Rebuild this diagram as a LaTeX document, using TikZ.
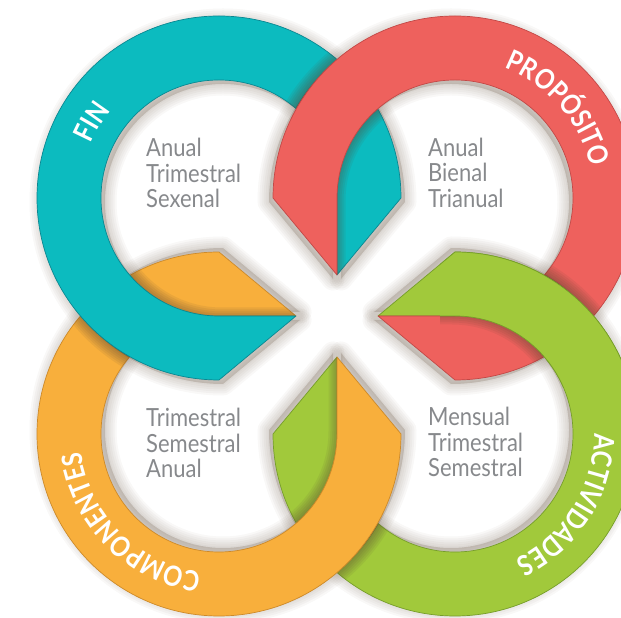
\documentclass[tikz,border=0pt]{standalone}
\usepackage{fontspec}
\usetikzlibrary{decorations.text}
\newfontfamily\innerfont[FakeStretch=0.88]{Lato}
\newfontfamily\labelfont[FakeStretch=0.85,LetterSpace=5]{Lato}
\definecolor{tealc}{RGB}{12,187,191}
\definecolor{teald}{RGB}{10,135,145}
\definecolor{redc}{RGB}{238,97,93}
\definecolor{redd}{RGB}{195,72,70}
\definecolor{greenc}{RGB}{161,201,59}
\definecolor{greend}{RGB}{118,158,42}
\definecolor{orangec}{RGB}{248,175,60}
\definecolor{oranged}{RGB}{205,138,42}
\definecolor{textc}{RGB}{135,137,140}
\definecolor{shadowc}{RGB}{90,70,50}
\def\tealpath{(401,420) arc[start angle=0,end angle=270,radius=182] -- (296,302) -- (219,302) arc[start angle=270,end angle=0,radius=118] -- (337,343) -- cycle}
\def\redpath{(273,420) arc[start angle=180,end angle=-90,radius=182] -- (378,302) -- (455,302) arc[start angle=-90,end angle=180,radius=118] -- (337,343) -- cycle}
\def\greenpath{(455,366) arc[start angle=90,end angle=-180,radius=182] -- (337,261) -- (337,184) arc[start angle=180,end angle=450,radius=118] -- (378,302) -- cycle}
\def\orangepath{(219,366) arc[start angle=90,end angle=360,radius=182] -- (337,261) -- (337,184) arc[start angle=0,end angle=-270,radius=118] -- (296,302) -- cycle}
\newcommand\ringshadow[3]{%
  \begin{scope}[shift={#1}]
    \foreach \w in {3,7,11,15,19,23} {\path[fill=shadowc,draw=shadowc,fill opacity=#3,draw opacity=#3,line width=\w pt,line join=round] #2;}
  \end{scope}}
\newcommand\lab{\labelfont\bfseries\fontsize{28}{28}\selectfont\color{white}}
\tikzset{
  teal ring/.style={fill=tealc,draw=teald,line width=0.7pt,line join=round},
  red ring/.style={fill=redc,draw=redd,line width=0.7pt,line join=round},
  green ring/.style={fill=greenc,draw=greend,line width=0.7pt,line join=round},
  orange ring/.style={fill=orangec,draw=oranged,line width=0.7pt,line join=round},
  period/.style={font=\innerfont\fontsize{25}{25}\selectfont,text=textc,inner sep=0pt,anchor=base west},
  ringlabel/.style={decorate,decoration={text along path,text align=center,text={|\lab|#1}}}
}
\begin{document}
\begin{tikzpicture}[x=1pt,y=1pt]
\useasboundingbox (0,0) rectangle (621,618);
\clip (0,0) rectangle (621,618);
% soft shadows on the background
\ringshadow{(4,-4)}{\tealpath}{0.04}
\ringshadow{(-4,-4)}{\redpath}{0.04}
\ringshadow{(-4,4)}{\greenpath}{0.04}
\ringshadow{(4,4)}{\orangepath}{0.04}
% green
\path[green ring] \greenpath;
% orange over green
\begin{scope}\clip \greenpath; \ringshadow{(3,3)}{\orangepath}{0.09}\end{scope}
\path[orange ring] \orangepath;
% teal over orange
\begin{scope}\clip \orangepath; \ringshadow{(3,-3)}{\tealpath}{0.09}\end{scope}
\path[teal ring] \tealpath;
% red over teal
\begin{scope}\clip \tealpath; \ringshadow{(-3,-3)}{\redpath}{0.09}\end{scope}
\path[red ring] \redpath;
% green over red (right side only)
\begin{scope}
  \clip (440,230) rectangle (640,380);
  \begin{scope}\clip \redpath; \ringshadow{(-3,3)}{\greenpath}{0.09}\end{scope}
  \path[green ring] \greenpath;
\end{scope}
% period texts
\node[period] (tl1) at (146,461) {Anual};
\node[period] (tl2) at (146,435) {Trimestral};
\node[period] (tl3) at (146,410) {Sexenal};
\node[period] (tr1) at (428,461) {Anual};
\node[period] (tr2) at (428,436) {Bienal};
\node[period] (tr3) at (428,410) {Trianual};
\node[period] (bl1) at (146,191) {Trimestral};
\node[period] (bl2) at (146,165) {Semestral};
\node[period] (bl3) at (146,140) {Anual};
\node[period] (br1) at (428,192) {Mensual};
\node[period] (br2) at (428,166) {Trimestral};
\node[period] (br3) at (428,141) {Semestral};
% ring labels
\path[ringlabel=FIN] ([shift={(189:139)}]219,420) arc[start angle=189,end angle=109,radius=139];
\path[ringlabel=PROPÓSITO] ([shift={(95:139)}]455,420) arc[start angle=95,end angle=-13,radius=139];
\path[ringlabel=ACTIVIDADES] ([shift={(30:139)}]455,184) arc[start angle=30,end angle=-94,radius=139];
\path[ringlabel=COMPONENTES] ([shift={(277:139)}]219,184) arc[start angle=277,end angle=173,radius=139];
\end{tikzpicture}
\end{document}
